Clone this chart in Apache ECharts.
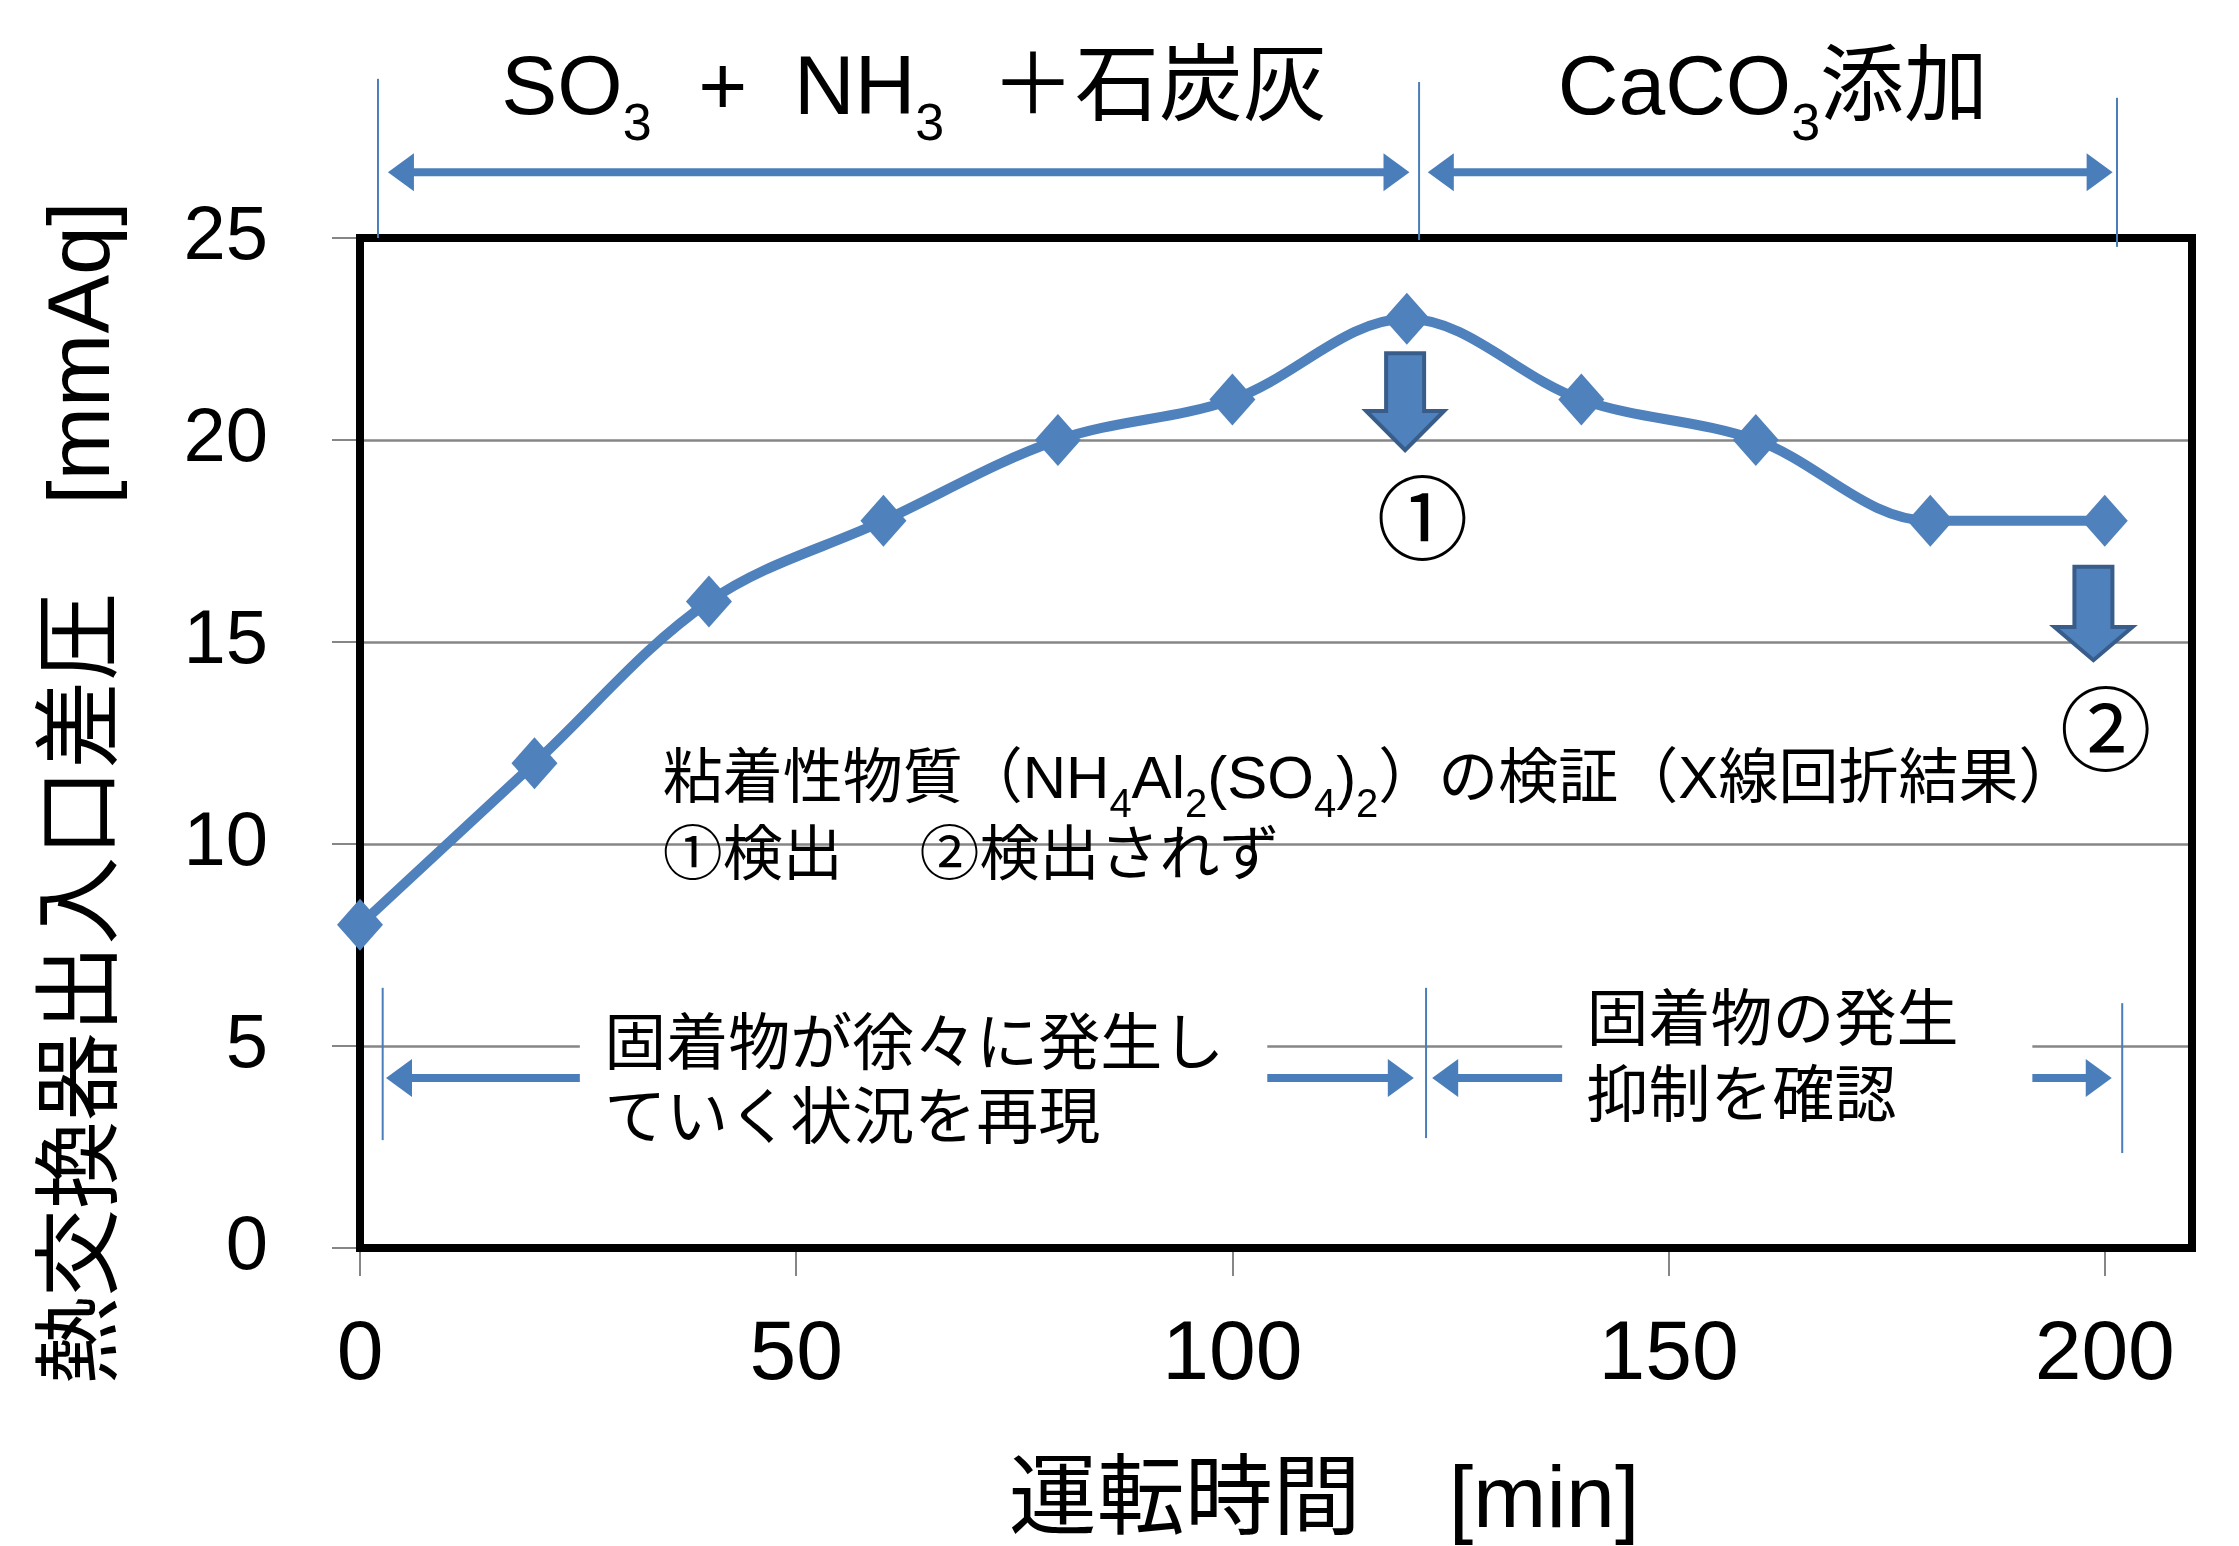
<!DOCTYPE html>
<html><head><meta charset="utf-8">
<script src="https://cdn.jsdelivr.net/npm/echarts@6/dist/echarts.min.js"></script>
<style>html,body{margin:0;padding:0;background:#fff}#c{width:2239px;height:1546px}</style>
</head><body><div id="c"></div>
<script>
// ---- data ----
const times = [0, 20, 40, 60, 80, 100, 120, 140, 160, 180, 200];
const pressure = [8, 12, 16, 18, 20, 21, 23, 21, 20, 18, 18];
const xTickValues = [0, 50, 100, 150, 200];
const yTickValues = [0, 5, 10, 15, 20, 25];

const xAxisName = '運転時間　[min]';
const yAxisName = '熱交換器出入口差圧　[mmAq]';
const phaseLabels = ['SO{s|3}  +  NH{s|3}  ＋石炭灰', 'CaCO{s|3}添加'];
const noteLines = ['粘着性物質（NH{s|4}Al{s|2}(SO{s|4}){s|2}）の検証（X線回折結果）', '①検出　 ②検出されず'];
const leftNote = ['固着物が徐々に発生し', 'ていく状況を再現'];
const rightNote = ['固着物の発生', '抑制を確認'];
const marks = ['①', '②'];

const FONT = "'Liberation Sans','Noto Sans CJK JP',sans-serif";
const BLUE = '#4F81BD', ARROW = '#4A7EBB', GRID = '#868686';

const chart = echarts.init(document.getElementById('c'), null, {renderer: 'canvas'});
const option = {
  animation: false,
  backgroundColor: '#fff',
  grid: {left: 360, right: 47, top: 238, bottom: 298, outerBoundsMode: 'none', containLabel: false},
  xAxis: {
    type: 'value', min: 0, max: 210, interval: 50,
    axisLine: {show: true, lineStyle: {color: GRID, width: 2}},
    axisTick: {show: true, inside: false, length: 28, lineStyle: {color: GRID, width: 2}, customValues: xTickValues},
    axisLabel: {show: true, margin: 66, fontSize: 84, fontFamily: FONT, color: '#000', customValues: xTickValues},
    splitLine: {show: false}
  },
  yAxis: {
    type: 'value', min: 0, max: 25, interval: 5,
    axisLine: {show: true, lineStyle: {color: GRID, width: 2}},
    axisTick: {show: true, inside: false, length: 28, lineStyle: {color: GRID, width: 2}},
    axisLabel: {show: true, margin: 92, fontSize: 76, fontFamily: FONT, color: '#000'},
    splitLine: {show: true, lineStyle: {color: GRID, width: 2.5}}
  },
  series: [{
    type: 'line',
    data: times.map((t, i) => [t, pressure[i]]),
    smooth: 0.35,
    symbol: 'diamond',
    symbolSize: [46, 52],
    lineStyle: {color: BLUE, width: 10},
    itemStyle: {color: BLUE},
    z: 3
  }]
};
chart.setOption(option);

const P = (x, y) => chart.convertToPixel({gridIndex: 0}, [x, y]);
const g = [];

function vline(x, y0, y1) {
  const a = P(x, y0), b = P(x, y1);
  g.push({type: 'line', z: 5, silent: true, shape: {x1: a[0], y1: a[1], x2: b[0], y2: b[1]}, style: {stroke: ARROW, lineWidth: 2}});
}
function harrow(xa, xb, y, headA, headB) {
  const a = P(xa, y), b = P(xb, y);
  const L = 26, W = 19, T = 8;
  let sx = a[0], ex = b[0];
  if (headA) sx += L - 2;
  if (headB) ex -= L - 2;
  g.push({type: 'rect', z: 5, silent: true, shape: {x: sx, y: a[1] - T / 2, width: ex - sx, height: T}, style: {fill: ARROW}});
  if (headA) g.push({type: 'polygon', z: 5, silent: true, shape: {points: [[a[0], a[1]], [a[0] + L, a[1] - W], [a[0] + L, a[1] + W]]}, style: {fill: ARROW}});
  if (headB) g.push({type: 'polygon', z: 5, silent: true, shape: {points: [[b[0], b[1]], [b[0] - L, b[1] - W], [b[0] - L, b[1] + W]]}, style: {fill: ARROW}});
}
function blockArrow(x, yTop, yHead, yTip) {
  const t = P(x, yTop), h = P(x, yHead), p = P(x, yTip);
  const cx = t[0], sw = 19, hw = 39;
  g.push({type: 'polygon', z: 6, silent: true,
    shape: {points: [[cx - sw, t[1]], [cx + sw, t[1]], [cx + sw, h[1]], [cx + hw, h[1]], [cx, p[1]], [cx - hw, h[1]], [cx - sw, h[1]]]},
    style: {fill: BLUE, stroke: '#385D8A', lineWidth: 4, lineJoin: 'miter'}});
}
function txt(s, x, y, size, align, lh, subSize, subH) {
  const p = P(x, y);
  const el = {type: 'text', z: 7, silent: true, x: p[0], y: p[1],
    style: {text: s, fill: '#000', fontSize: size, fontFamily: FONT, align: align || 'left', verticalAlign: 'middle'}};
  if (lh) {
    el.style.lineHeight = lh;
    el.style.rich = {s: {fontSize: subSize, fontFamily: FONT, height: subH, lineHeight: subH, verticalAlign: 'bottom', fill: '#000'}};
  }
  g.push(el);
}
function whiteBox(x0, x1, y0, y1) {
  const a = P(x0, y0), b = P(x1, y1);
  g.push({type: 'rect', z: 1, silent: true, shape: {x: a[0], y: a[1], width: b[0] - a[0], height: b[1] - a[1]}, style: {fill: '#fff'}});
}

// plot border
(function () {
  const a = P(0, 25), b = P(210, 0);
  g.push({type: 'rect', z: 1, silent: true, shape: {x: a[0], y: a[1], width: b[0] - a[0], height: b[1] - a[1]}, style: {fill: null, stroke: '#000', lineWidth: 8}});
})();

// top phase annotations
vline(2.06, 28.94, 25);
vline(121.4, 28.86, 24.95);
vline(201.4, 28.47, 24.78);
harrow(3.2, 120.3, 26.63, true, true);
harrow(122.4, 200.9, 26.63, true, true);
txt(phaseLabels[0], 16.2, 28.65, 84, 'left', 100, 52, 30);
txt(phaseLabels[1], 137.3, 28.65, 84, 'left', 100, 52, 30);

// block arrows and circled marks
blockArrow(119.8, 22.15, 20.72, 19.75);
blockArrow(198.7, 16.86, 15.37, 14.55);
txt(marks[0], 121.8, 17.82, 92, 'center');
txt(marks[1], 200.1, 12.6, 92, 'center');

// note text
txt(noteLines[0], 34.7, 11.56, 60, 'left', 76, 40, 26);
txt(noteLines[1], 34.7, 9.65, 60, 'left');

// bottom annotations
whiteBox(25.2, 104.0, 6.3, 2.5);
whiteBox(137.8, 191.7, 6.3, 2.5);
vline(2.6, 6.44, 2.67);
vline(122.2, 6.44, 2.72);
vline(202.0, 6.06, 2.35);
harrow(2.98, 25.2, 4.21, true, false);
harrow(104.0, 120.8, 4.21, false, true);
harrow(122.9, 137.8, 4.21, true, false);
harrow(191.7, 200.8, 4.21, false, true);
txt(leftNote[0], 28.0, 4.95, 62, 'left');
txt(leftNote[1], 28.0, 3.12, 62, 'left');
txt(rightNote[0], 140.6, 5.54, 62, 'left');
txt(rightNote[1], 140.6, 3.66, 62, 'left');

// axis titles
(function () {
  const xn = P(110.5, 0);
  g.push({type: 'text', z: 7, silent: true, x: xn[0], y: xn[1] + 255,
    style: {text: xAxisName, fill: '#000', fontSize: 88, fontFamily: FONT, align: 'center', verticalAlign: 'middle'}});
  const yn = P(0, 11.26);
  g.push({type: 'text', z: 7, silent: true, x: 85, y: yn[1], rotation: Math.PI / 2,
    style: {text: yAxisName, fill: '#000', fontSize: 88, fontFamily: FONT, align: 'center', verticalAlign: 'middle'}});
})();

chart.setOption({graphic: {elements: g}});
</script></body></html>
